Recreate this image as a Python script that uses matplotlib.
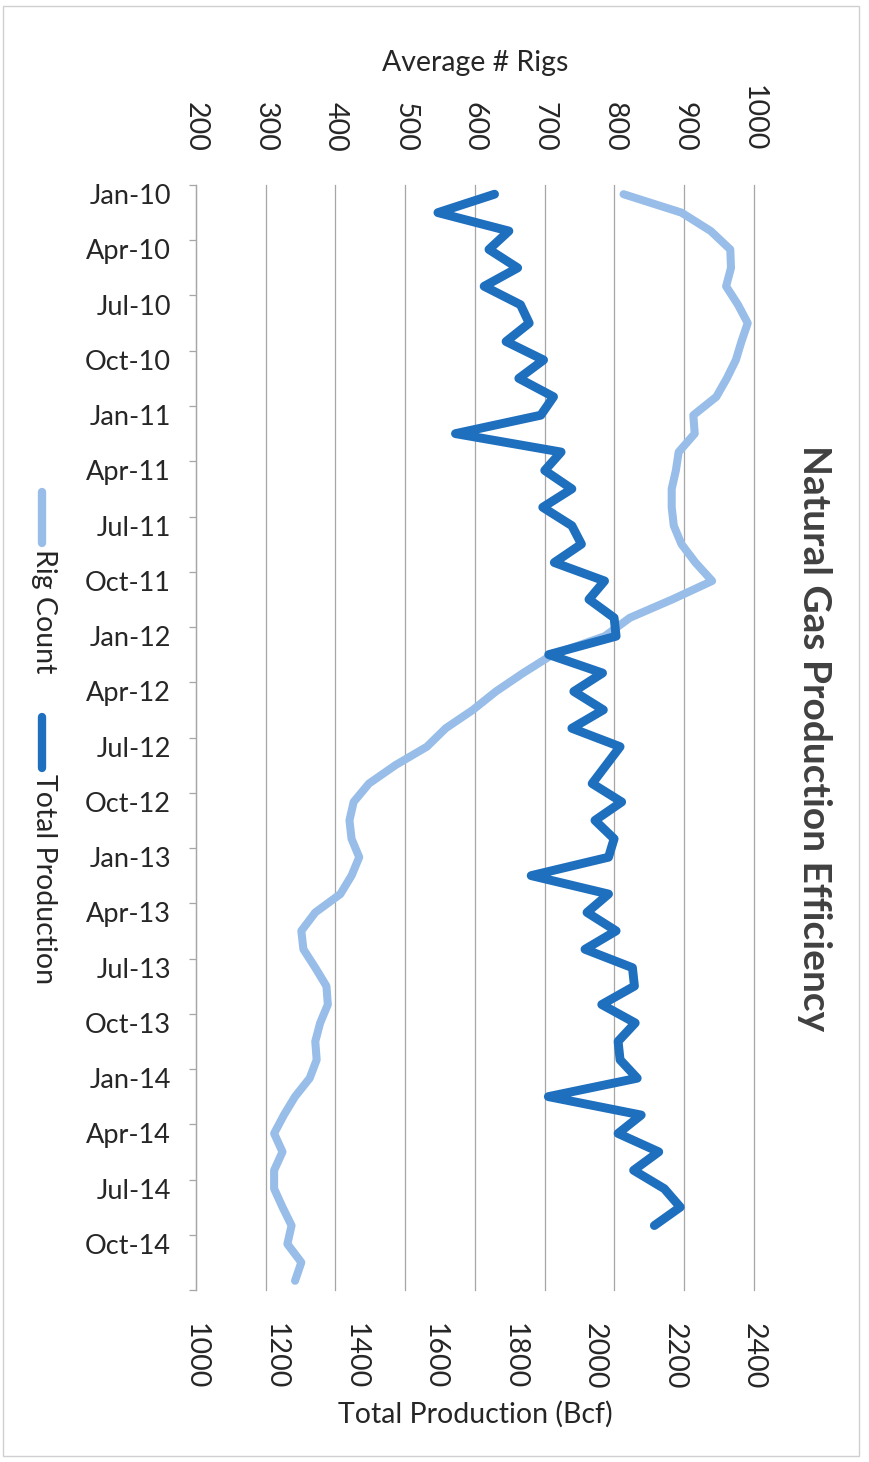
import pandas as pd
import matplotlib.pyplot as plt
from matplotlib.lines import Line2D
from matplotlib.patches import Rectangle
import numpy as np

plt.rcParams['font.family'] = ['Lato', 'DejaVu Sans']

# monthly categories Jan-10 .. Dec-14
months = pd.date_range('2010-01-01', periods=60, freq='MS')
month_labels = [m.strftime('%b-%y') for m in months]

# average rig count
rig_count = [813, 896, 938, 966, 967, 960, 977, 991, 982, 974,
             961, 946, 913, 915, 892, 888, 882, 882, 885, 896,
             916, 940, 883, 822, 786, 711, 669, 630, 597, 558,
             531, 486, 448, 426, 420, 423, 434, 423, 407, 371,
             351, 354, 371, 387, 389, 378, 371, 373, 363, 342,
             326, 312, 324, 312, 312, 324, 337, 331, 351, 342]

# total production in Bcf, Jan-10 .. Sep-14
production = [1749, 1607, 1785, 1735, 1807, 1723, 1814, 1836, 1778, 1872,
              1810, 1897, 1865, 1651, 1916, 1875, 1943, 1870, 1943, 1967,
              1899, 2025, 1986, 2049, 2054, 1885, 2020, 1948, 2022, 1943,
              2064, 2029, 1994, 2068, 2001, 2049, 2035, 1841, 2035, 1981,
              2054, 1976, 2095, 2100, 2018, 2102, 2059, 2064, 2107, 1884,
              2117, 2059, 2161, 2098, 2175, 2215, 2150]

rig_ticks = np.arange(200, 1001, 100)
prod_ticks = np.arange(1000, 2401, 200)

light_blue = '#97BDE8'
dark_blue = '#1E6FBE'
text_col = '#262626'
fs = 20.5

W, H = 870, 1462
fig = plt.figure(figsize=(W / 100, H / 100), dpi=100)

ax = fig.add_axes([196 / W, 1 - 1290 / H, 558 / W, 1105 / H])
ax2 = ax.twiny()

# rig count on the top axis
ax.plot(rig_count, np.arange(len(rig_count)), color=light_blue, lw=5.8,
        solid_capstyle='round', solid_joinstyle='round', zorder=3,
        clip_on=False)
ax.set_ylim(59.5, -0.5)
ax.set_xlim(200, 1000)
ax.xaxis.tick_top()
ax.xaxis.set_label_position('top')
ax.set_xticks(rig_ticks)
ax.tick_params(axis='x', length=0, pad=24, labelsize=fs, labelrotation=-90,
               labelcolor=text_col)
ax.grid(axis='x', color='#A6A6A6', lw=0.9, clip_on=False)
ax.set_axisbelow(True)
ax.set_xlabel('Average # Rigs', fontsize=fs, color=text_col)
ax.xaxis.set_label_coords(0.5, 1 + (185 - 63) / 1105, transform=ax.transAxes)
ax.xaxis.label.set_va('center')

# category axis: labels every 3 months, ticks between categories
ax.set_yticks(np.arange(0, 60, 3))
ax.set_yticklabels(month_labels[::3])
ax.set_yticks(np.arange(-0.5, 60, 3), minor=True)
ax.tick_params(axis='y', which='major', length=0, pad=18, labelsize=19.5,
               labelcolor=text_col)
ax.tick_params(axis='y', which='minor', length=5, color='#A6A6A6', width=0.9)
for s in ['top', 'right', 'bottom']:
    ax.spines[s].set_visible(False)
ax.spines['left'].set_color('#A6A6A6')
ax.spines['left'].set_linewidth(0.9)

# production on the bottom axis
ax2.plot(production, np.arange(len(production)), color=dark_blue, lw=6.4,
         solid_capstyle='round', solid_joinstyle='round', zorder=4)
ax2.set_xlim(1000, 2400)
ax2.xaxis.tick_bottom()
ax2.xaxis.set_label_position('bottom')
ax2.set_xticks(prod_ticks)
ax2.tick_params(axis='x', length=0, pad=23.5, labelsize=fs, labelrotation=-90,
                labelcolor=text_col)
ax2.set_xlabel('Total Production (Bcf)', fontsize=fs, color=text_col)
ax2.xaxis.set_label_coords(0.5, -(1414 - 1290) / 1105, transform=ax2.transAxes)
ax2.xaxis.label.set_va('center')
for s in ax2.spines.values():
    s.set_visible(False)

# title, rotated like the rest of the page
fig.text(815 / W, 1 - 738 / H, 'Natural Gas Production Efficiency',
         rotation=-90, ha='center', va='center', fontsize=28,
         fontweight='bold', color='#404040')

# legend, rotated
for y0, y1, col, lab in [(492, 543, light_blue, 'Rig Count'),
                         (717, 768, dark_blue, 'Total Production')]:
    fig.add_artist(Line2D([42 / W, 42 / W], [1 - y0 / H, 1 - y1 / H],
                          color=col, lw=6, solid_capstyle='round'))
    fig.text(44 / W, 1 - (y1 + 6) / H, lab, rotation=-90, ha='center',
             va='top', fontsize=fs, color=text_col)

fig.add_artist(Rectangle((3 / W, 1 - 1456 / H), 856 / W, 1450 / H,
                         transform=fig.transFigure, fill=False,
                         ec='#D0D0D0', lw=1))

fig.savefig('out.png', dpi=100)
